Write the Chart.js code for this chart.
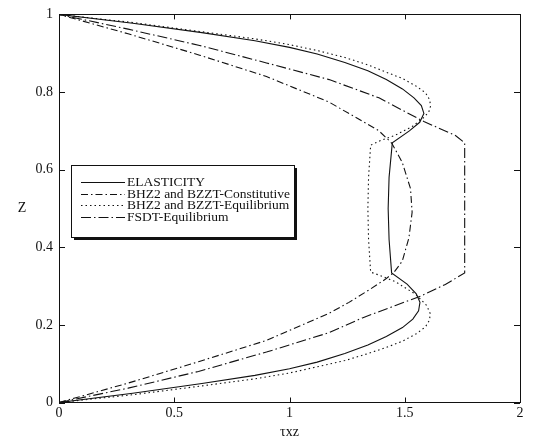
<!DOCTYPE html>
<html>
<head>
<meta charset="utf-8">
<script src="https://cdn.jsdelivr.net/npm/chart.js@4.4.1/dist/chart.umd.min.js"></script>
<style>
    html, body { margin: 0; padding: 0; background: #fff; }
    #obal { width: 533px; height: 441px; }
</style>
</head>
<body>
<div id="obal"><canvas id="grafSmyk" width="533" height="441"></canvas></div>
<script>
// tau_xz through the thickness, z from bottom (0) to top (1)
const zElasticity   = [0, 0.024, 0.049, 0.070, 0.087, 0.104, 0.126, 0.148, 0.170, 0.193, 0.215, 0.236, 0.258, 0.280, 0.305, 0.334, 0.420, 0.500, 0.580, 0.669, 0.700, 0.722, 0.745, 0.765, 0.785, 0.808, 0.832, 0.855, 0.876, 0.898, 0.915, 0.932, 0.953, 0.977, 1];
const tauElasticity = [0, 0.32, 0.62, 0.85, 1.0, 1.12, 1.24, 1.34, 1.42, 1.49, 1.535, 1.56, 1.566, 1.55, 1.51, 1.443, 1.432, 1.428, 1.432, 1.446, 1.52, 1.565, 1.583, 1.572, 1.54, 1.49, 1.42, 1.34, 1.24, 1.12, 1.0, 0.85, 0.62, 0.32, 0];

const zConstitutive   = [0, 0.05, 0.105, 0.16, 0.230, 0.258, 0.290, 0.318, 0.335, 0.364, 0.424, 0.490, 0.551, 0.619, 0.668, 0.700, 0.774, 0.84, 0.895, 0.95, 1];
const tauConstitutive = [0, 0.30, 0.605, 0.90, 1.172, 1.258, 1.345, 1.417, 1.453, 1.489, 1.518, 1.532, 1.525, 1.489, 1.444, 1.388, 1.172, 0.90, 0.61, 0.30, 0];

const zEquilibrium   = [0, 0.02, 0.042, 0.061, 0.076, 0.092, 0.108, 0.126, 0.142, 0.158, 0.177, 0.195, 0.213, 0.230, 0.250, 0.279, 0.311, 0.328, 0.336, 0.420, 0.500, 0.580, 0.663, 0.675, 0.689, 0.711, 0.733, 0.748, 0.764, 0.780, 0.798, 0.815, 0.835, 0.851, 0.870, 0.889, 0.907, 0.922, 0.937, 0.956, 0.979, 1];
const tauEquilibrium = [0, 0.32, 0.61, 0.85, 1.0, 1.12, 1.24, 1.34, 1.42, 1.49, 1.55, 1.59, 1.608, 1.610, 1.595, 1.547, 1.46, 1.39, 1.352, 1.343, 1.34, 1.343, 1.352, 1.395, 1.46, 1.532, 1.58, 1.604, 1.612, 1.608, 1.59, 1.55, 1.49, 1.42, 1.34, 1.24, 1.12, 1.0, 0.85, 0.61, 0.32, 0];

const zFsdt   = [0, 0.037, 0.08, 0.13, 0.180, 0.218, 0.250, 0.274, 0.304, 0.334, 0.669, 0.688, 0.724, 0.785, 0.832, 0.875, 0.92, 0.962, 1];
const tauFsdt = [0, 0.30, 0.605, 0.90, 1.172, 1.316, 1.46, 1.568, 1.676, 1.76, 1.76, 1.72, 1.583, 1.388, 1.172, 0.90, 0.61, 0.30, 0];

const nazvy = ["ELASTICITY", "BHZ2 and BZZT-Constitutive", "BHZ2 and BZZT-Equilibrium", "FSDT-Equilibrium"];
const xTicks = [0, 0.5, 1, 1.5, 2];
const zTicks = [0, 0.2, 0.4, 0.6, 0.8, 1];

const pismo = "'Liberation Serif', 'Times New Roman', serif";
Chart.defaults.font.family = pismo;
Chart.defaults.color = "#111";

function body(tau, z) { return tau.map(function(t, i) { return { x: t, y: z[i] }; }); }

function rada(label, tau, z, dash) {
    return { label: label, data: body(tau, z), showLine: true, pointRadius: 0, borderColor: "#111", borderWidth: 1.1, borderDash: dash, fill: false, tension: 0 };
}

// frame with inward ticks + boxed legend with shadow
const ramecek = {
    id: "ramecek",
    afterDraw: function(chart) {
        const ctx = chart.ctx, a = chart.chartArea, sx = chart.scales.x, sy = chart.scales.y;
        ctx.save();
        ctx.strokeStyle = "#111"; ctx.lineWidth = 1; ctx.setLineDash([]);
        ctx.strokeRect(Math.round(a.left) + 0.5, Math.round(a.top) + 0.5, Math.round(a.right - a.left), Math.round(a.bottom - a.top));
        ctx.beginPath();
        xTicks.forEach(function(v) {
            const px = Math.round(sx.getPixelForValue(v)) + 0.5;
            ctx.moveTo(px, a.bottom); ctx.lineTo(px, a.bottom - 5);
            ctx.moveTo(px, a.top); ctx.lineTo(px, a.top + 5);
        });
        zTicks.forEach(function(v) {
            const py = Math.round(sy.getPixelForValue(v)) + 0.5;
            ctx.moveTo(a.left, py); ctx.lineTo(a.left + 6, py);
            ctx.moveTo(a.right, py); ctx.lineTo(a.right - 6, py);
        });
        ctx.stroke();

        // y title, upright
        ctx.font = "14px " + pismo; ctx.fillStyle = "#111";
        ctx.textAlign = "center"; ctx.textBaseline = "middle";
        ctx.fillText("Z", 22, (a.top + a.bottom) / 2);

        // legend
        const lx = 71, ly = 165, lw = 223, lh = 72;
        ctx.fillStyle = "#111"; ctx.fillRect(lx + 3, ly + 3, lw, lh);
        ctx.fillStyle = "#fff"; ctx.fillRect(lx, ly, lw, lh);
        ctx.strokeRect(lx + 0.5, ly + 0.5, lw, lh);
        ctx.font = "13.5px " + pismo; ctx.textAlign = "left";
        chart.data.datasets.forEach(function(ds, i) {
            const y = Math.round(ly + 17 + i * 11.7) + 0.5;
            ctx.lineWidth = ds.borderWidth; ctx.setLineDash(ds.borderDash || []);
            ctx.beginPath(); ctx.moveTo(lx + 10, y); ctx.lineTo(lx + 54, y); ctx.stroke();
            ctx.setLineDash([]);
            ctx.fillStyle = "#111"; ctx.fillText(ds.label, lx + 56, y);
        });
        ctx.restore();
    }
};

new Chart(document.getElementById("grafSmyk").getContext("2d"), {
    type: "scatter",
    data: {
        datasets: [
            rada(nazvy[0], tauElasticity, zElasticity, []),
            rada(nazvy[1], tauConstitutive, zConstitutive, [7, 3, 1.5, 3]),
            rada(nazvy[2], tauEquilibrium, zEquilibrium, [1.5, 3]),
            rada(nazvy[3], tauFsdt, zFsdt, [10, 3, 1.5, 3])
        ]
    },
    options: {
        responsive: false, animation: false, devicePixelRatio: 1,
        layout: { padding: { top: 11, right: 13, left: 0, bottom: 0 } },
        plugins: { legend: { display: false }, tooltip: { enabled: false } },
        scales: {
            x: {
                type: "linear", min: 0, max: 2,
                afterBuildTicks: function(s) { s.ticks = xTicks.map(function(v) { return { value: v }; }); },
                afterFit: function(s) { s.height = 38.5; },
                ticks: { autoSkip: false, maxRotation: 0, padding: 2, font: { size: 14 }, callback: function(v) { return String(v); } },
                grid: { display: false, drawTicks: false }, border: { display: false },
                title: { display: true, text: "τxz", font: { size: 14 }, padding: { top: 0, bottom: 0 } }
            },
            y: {
                type: "linear", min: 0, max: 1,
                afterBuildTicks: function(s) { s.ticks = zTicks.map(function(v) { return { value: v }; }); },
                afterFit: function(s) { s.width = 59; },
                ticks: { autoSkip: false, padding: 6, font: { size: 14 }, callback: function(v) { return String(v); } },
                grid: { display: false, drawTicks: false }, border: { display: false }
            }
        }
    },
    plugins: [ramecek]
});
</script>
</body>
</html>
